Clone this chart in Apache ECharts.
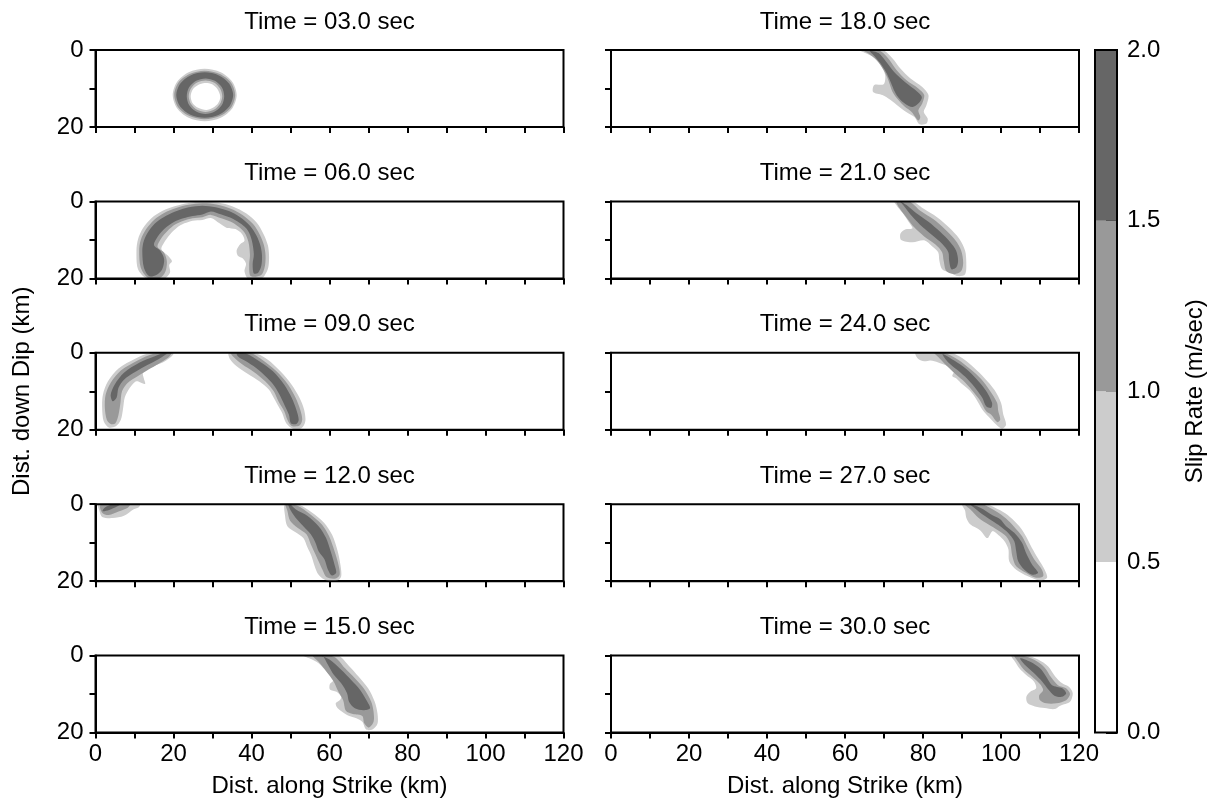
<!DOCTYPE html>
<html><head><meta charset="utf-8">
<script src="https://cdn.jsdelivr.net/npm/echarts@6/dist/echarts.min.js"></script>
<style>html,body{margin:0;padding:0;background:#fff}#c{width:1207px;height:812px}</style>
</head><body><div id="c"></div>
<script>
// ---------- colour scale: slip rate (m/sec) ----------
const levelBounds = [0.0, 0.5, 1.0, 1.5, 2.0];
const levelColors = ['#ffffff', '#cccccc', '#999999', '#666666'];
const strikeLabels = [0, 20, 40, 60, 80, 100, 120];
const dipLabels = [0, 20];
const panelTimes = ['03.0', '06.0', '09.0', '12.0', '15.0', '18.0', '21.0', '24.0', '27.0', '30.0'];

// ---------- contour outlines [strike km, dip km] ----------
// t = 3 s : ring
const t03_light = [[36.2,11.7],[35.1,8.3],[32.1,5.8],[28,4.9],[23.9,5.8],[20.9,8.3],[19.8,11.7],[20.9,15.1],[23.9,17.6],[28,18.5],[32.1,17.6],[35.1,15.1]];
const t03_medium = [[35.8,11.7],[34.8,8.55],[31.9,6.25],[28,5.4],[24.1,6.25],[21.2,8.55],[20.2,11.7],[21.2,14.85],[24.1,17.15],[28,18.0],[31.9,17.15],[34.8,14.85]];
const t03_dark = [[35.3,11.7],[34.3,8.75],[31.65,6.6],[28,5.8],[24.35,6.6],[21.7,8.75],[20.7,11.7],[21.7,14.65],[24.35,16.8],[28,17.6],[31.65,16.8],[34.3,14.65]];
const t03_innerMedium = [[33,12],[32.4,9.7],[30.6,8.0],[28.2,7.4],[25.8,8.0],[24.0,9.7],[23.4,12],[24.0,14.3],[25.8,16.0],[28.2,16.6],[30.6,16.0],[32.4,14.3]];
const t03_innerLight = [[32.5,12],[31.9,9.95],[30.35,8.45],[28.2,7.9],[26.05,8.45],[24.5,9.95],[23.9,12],[24.5,14.05],[26.05,15.55],[28.2,16.1],[30.35,15.55],[31.9,14.05]];
const t03_innerWhite = [[32.0,12.2],[31.3,10.2],[29.9,8.9],[28.0,8.6],[26.3,9.1],[24.9,10.3],[24.4,12],[24.9,13.8],[26.3,15.0],[28.4,15.6],[30.1,15.0],[31.4,13.9]];

// t = 6 s : arch
const t06_light = [[13.2,20],[10.9,17.6],[10.5,12.8],[10.9,9.8],[12.2,6.9],[14.4,4.3],[17.1,2.5],[20.5,1.2],[23.9,0.4],[27.4,0.1],[31.3,0.3],[35.2,1.3],[38.6,3.1],[41.3,5.5],[43.1,8.5],[44.2,11.4],[44.5,14.1],[44.3,17.2],[43.3,19.4],[42.5,20],
  [39.1,20],[38.2,18.1],[38.6,16.2],[37.8,14.8],[36.5,14.1],[36.2,12.7],[37.1,11.1],[38.2,10.2],[37.6,8.5],[35.9,7.2],[33.7,6.9],[31.8,5.7],[29.6,4.3],[27.4,4.8],[24.9,5.0],[22.8,5.7],[20.8,6.9],[19.1,8.6],[17.6,10.7],[16.9,12.4],[18.6,14.1],[19.6,15.5],[18.9,16.5],[19.1,18.5],[17.6,20]];
const t06_medium = [[13.4,19.8],[11.6,17.2],[11.2,12.8],[11.6,10.0],[13.0,7.2],[15.0,4.8],[17.6,3.0],[20.7,1.7],[23.9,0.9],[27.4,0.5],[31.0,0.8],[34.7,1.9],[37.8,3.6],[40.4,5.9],[42.1,8.6],[43.2,11.4],[43.6,14.1],[43.4,17.0],[42.5,19.1],
  [39.8,19.4],[39.4,16.5],[39.6,13.9],[39.2,10.5],[38.2,8.1],[36.7,6.6],[34.7,5.3],[32.0,4.3],[29.6,3.5],[27.4,4.1],[24.9,4.4],[22.6,5.0],[20.4,6.0],[18.5,7.6],[16.9,9.5],[15.9,11.8],[17.6,13.4],[18.3,15.6],[17.9,18.3],[16.6,19.8]];
const t06_dark = [[13.7,19.4],[12.4,17.2],[12.0,12.8],[12.4,10.2],[13.7,7.6],[15.6,5.4],[18.1,3.7],[21.0,2.4],[23.9,1.5],[27.4,1.1],[30.8,1.5],[34.2,2.5],[37.1,4.1],[39.6,6.3],[41.3,8.9],[42.3,11.5],[42.7,14.1],[42.5,16.8],[41.7,18.5],
  [40.6,18.7],[40.3,16.3],[40.6,13.7],[40.1,10.2],[39.1,7.6],[37.4,5.9],[35.2,4.5],[32.3,3.4],[29.6,2.6],[27.4,3.4],[24.9,3.8],[22.5,4.4],[20.0,5.4],[17.9,6.9],[16.1,8.9],[15.0,11.3],[16.6,12.8],[17.6,15.0],[17.1,17.6],[15.6,19.1]];

// t = 9 s : two arcs
const t09_leftLight = [[19.8,0],[14.2,0],[10.3,1.5],[5.9,4.1],[3.2,7.4],[1.9,10.9],[1.7,14.3],[2.1,17.8],[3.4,19.4],[5.2,19.1],[6.5,17.4],[7.1,14.3],[7.5,11.6],[8.8,9.1],[10.5,7.4],[12.7,8.1],[12.4,6.7],[12.2,5.2],[14.4,3.7],[17.1,2.6],[19.1,1.3],[20.0,0.3]];
const t09_leftMedium = [[19.1,0],[14.7,0.3],[10.8,2.0],[6.5,4.6],[3.9,7.8],[2.6,10.9],[2.4,14.3],[2.9,17.4],[3.9,18.5],[5.1,18.3],[5.9,16.1],[6.4,13.0],[6.8,10.0],[8.3,7.8],[10.8,6.1],[13.7,4.3],[16.1,2.9],[18.6,1.3],[19.6,0]];
const t09_leftDark = [[17.1,0.2],[15.2,0.9],[11.2,2.6],[7.3,5.2],[4.9,8.3],[3.9,10.9],[4.4,12.6],[5.4,11.7],[5.9,9.1],[7.3,7.0],[9.8,5.2],[12.7,3.5],[15.2,2.2],[17.1,1.1],[18.3,0.2]];
const t09_rightLight = [[40.6,0],[44.0,1.7],[47.4,4.8],[50.3,8.3],[52.3,11.7],[53.5,14.8],[53.8,17.8],[52.8,19.6],[50.6,19.7],[48.9,18.3],[47.9,15.7],[46.9,13.9],[45.7,11.7],[44.5,9.6],[42.0,7.4],[39.1,5.5],[36.2,3.5],[34.5,1.7],[34.2,0]];
const t09_rightMedium = [[39.6,0],[43.0,2.0],[46.4,4.8],[49.4,8.3],[51.3,11.7],[52.5,14.8],[53.0,17.4],[52.3,18.9],[50.3,19.0],[49.2,17.4],[48.4,15.2],[46.9,12.6],[45.7,10.0],[43.5,7.4],[40.6,5.0],[37.6,3.0],[35.2,0.9],[34.7,0]];
const t09_rightDark = [[38.6,0.2],[42.0,2.2],[45.5,4.8],[48.4,8.3],[50.3,11.7],[51.5,14.8],[52.1,17.4],[51.5,18.5],[50.1,18.3],[49.6,16.1],[48.6,13.9],[47.4,11.3],[45.9,8.7],[44.0,6.5],[41.1,3.9],[38.6,2.2],[36.7,1.1],[36.2,0.2]];

// t = 12 s
const t12_blobLight = [[0.7,0],[1,1.7],[1.7,3.3],[4.4,3.6],[7.3,3.0],[9.8,1.3],[11.2,0.7],[11.4,0]];
const t12_blobMedium = [[1.3,0.2],[1.7,2.2],[3.4,2.8],[5.9,1.9],[8.3,0.9],[8.8,0]];
const t12_blobDark = [[1.8,1.8],[3.5,1.5],[5.5,0.6],[6.5,0],[4.5,0],[2.5,0.8]];
const t12_light = [[48.6,0],[52.3,0.2],[55.4,2.1],[58.6,4.8],[60.7,8.0],[62.1,12.2],[62.8,15.7],[63.0,18.7],[62.1,19.8],[59.2,19.8],[57.2,18.3],[56.2,16.1],[55.4,13.5],[54.3,11.1],[53.3,8.8],[51.3,7.3],[49.2,5.7],[48.6,3.0]];
const t12_medium = [[48.8,0],[51.8,0.4],[54.8,2.4],[58.0,5.2],[59.9,8.3],[61.3,12.2],[62.3,15.7],[62.6,18.3],[61.6,19.3],[59.3,19.0],[58.2,17.0],[57.2,14.8],[56.2,12.6],[55.2,10.4],[54.1,7.8],[51.8,6.1],[49.9,4.3],[49.2,1.7]];
const t12_dark = [[49.9,0],[51.3,1.3],[54.3,3.0],[57.2,5.7],[59.1,8.7],[60.3,12.2],[61.3,15.7],[61.7,17.8],[60.6,18.5],[59.6,17.0],[58.7,14.3],[57.2,12.2],[56.4,10.0],[55.2,7.8],[53.3,5.7],[51.3,3.5],[50.1,1.7],[49.4,0]];

// t = 15 s
const t15_light = [[53.3,0],[62.1,0],[65.0,2.7],[67.5,5.5],[69.9,8.5],[71.6,12.0],[72.3,15.0],[72.3,17.7],[71.0,19.2],[69.4,19.2],[68.4,17.2],[66.9,16.3],[64.5,15.4],[62.1,13.7],[61.6,12.4],[62.6,11.6],[63.0,10.7],[61.8,9.4],[60.1,8.8],[60.1,7.4],[61.1,6.2],[59.2,4.1],[57.2,2.0],[54.8,0.7]];
const t15_medium = [[55.7,0],[61.1,0.3],[64.0,3.3],[66.5,5.9],[68.9,8.7],[70.7,12.0],[71.3,14.6],[71.3,17.2],[70.1,18.7],[68.9,17.6],[68.4,15.7],[66.0,15.2],[64.2,14.3],[63.5,11.6],[62.1,9.0],[61.1,6.8],[59.2,4.1],[57.2,1.6]];
const t15_dark = [[57.7,0],[60.1,1.1],[63.0,3.7],[65.5,6.3],[67.9,9.0],[69.7,12.0],[70.4,13.7],[68.7,14.2],[66.5,13.7],[65.0,12.0],[64.5,9.8],[63.0,7.2],[61.1,5.0],[59.6,2.4],[58.7,0.7],[58.2,0]];

// t = 18 s
const t18_light = [[63.5,0],[69.6,0],[72.2,2.2],[74.2,4.8],[76.8,7.4],[79.8,9.6],[81.4,11.7],[80.9,14.3],[80.2,16.1],[81.2,17.8],[80.9,19.1],[79.1,19.3],[77.8,17.4],[75.7,16.1],[73.7,14.6],[71.7,13.0],[69.6,11.7],[67.2,10.9],[67.5,9.1],[69.9,8.9],[70.3,6.5],[69.1,3.9],[67.0,1.7],[65.0,0.7]];
const t18_medium = [[64.5,0],[68.6,0],[71.1,2.2],[73.2,5.2],[75.7,7.8],[78.8,10.0],[80.3,11.7],[79.8,13.9],[78.8,15.7],[79.3,17.4],[78.8,18.3],[77.1,16.1],[75.2,14.6],[73.7,13.0],[72.2,10.9],[71.1,7.8],[69.9,5.2],[68.1,2.6],[66.0,0.9]];
const t18_dark = [[66.3,0.2],[68.6,0.8],[70.5,3.0],[72.6,5.7],[75.6,8.5],[78.4,10.7],[79.7,12.2],[79.0,13.7],[77.3,14.8],[75.5,14.0],[73.9,12.6],[72.8,10.9],[71.7,8.3],[70.5,5.7],[69.1,3.5],[67.3,1.3]];

// t = 21 s
const t21_light = [[72.7,0],[77.3,0],[80.3,2.0],[83.6,4.1],[86.7,6.8],[89.3,9.7],[90.8,12.8],[91.1,15.9],[90.8,18.9],[89.0,19.4],[87.0,18.5],[84.9,17.6],[84.2,15.4],[83.9,13.2],[82.4,11.7],[80.3,10.1],[77.3,10.6],[74.4,10.0],[74.2,8.4],[75.4,7.3],[77.3,7.0],[76.3,5.3],[74.7,2.9],[73.4,1.3]];
const t21_medium = [[73.2,0],[76.5,0],[79.3,2.4],[82.6,4.6],[85.7,7.3],[88.3,10.1],[89.8,12.8],[90.3,15.9],[89.8,18.1],[88.0,18.9],[86.0,18.1],[85.3,15.4],[84.9,13.2],[83.2,11.2],[80.3,9.1],[77.8,6.8],[75.7,4.1],[74.0,1.8]];
const t21_dark = [[74.2,0],[75.7,0.9],[78.3,3.1],[81.4,5.3],[84.4,7.9],[87.0,10.6],[88.5,12.8],[89.0,15.4],[88.5,17.2],[87.3,17.6],[86.7,15.4],[86.5,13.2],[84.9,11.0],[82.4,8.8],[79.8,6.6],[77.3,4.0],[75.2,1.3]];

// t = 24 s
const t24_light = [[78.1,0],[87.0,0],[90.4,1.6],[93.1,3.9],[95.8,6.6],[98.3,9.6],[100.0,13.0],[100.6,16.1],[101.3,18.7],[100.3,19.7],[98.8,18.7],[96.7,16.5],[95.2,14.7],[93.7,12.1],[92.1,9.9],[90.1,8.2],[88.5,6.6],[87.5,6.0],[88.0,4.6],[86.0,3.3],[83.9,2.5],[81.9,2.0],[80.3,2.2],[78.8,1.6]];
const t24_medium = [[82.9,0],[85.4,0],[89.0,1.8],[92.1,4.2],[94.9,6.8],[97.2,9.9],[99.0,13.0],[99.3,15.2],[99.8,17.4],[99.0,18.0],[97.5,16.1],[96.2,15.2],[94.7,12.5],[93.1,10.4],[90.8,7.7],[88.3,5.5],[86.0,3.3],[83.9,1.1]];
const t24_dark = [[85.0,0.3],[88.0,2.0],[91.1,4.2],[93.7,6.8],[96.2,9.9],[97.7,13.0],[97.5,14.3],[96.2,13.9],[95.2,11.7],[93.7,9.5],[91.4,6.8],[89.0,4.6],[86.5,2.5]];

// t = 27 s
const t27_light = [[90.1,0],[96.2,0],[99.8,1.6],[102.3,3.3],[104.7,5.7],[106.4,8.3],[107.9,11.3],[109.5,14.1],[111.2,17.0],[111.8,19.1],[110.0,19.8],[106.9,18.7],[103.9,17.0],[102.1,14.8],[101.9,11.7],[100.9,9.6],[99.3,8.0],[97.8,7.0],[96.5,8.8],[94.7,6.8],[92.1,5.2],[91.1,3.5],[90.8,1.7]];
const t27_medium = [[90.8,0],[95.2,0],[98.8,1.9],[101.3,3.7],[103.4,5.9],[105.4,8.3],[106.9,11.3],[108.5,14.3],[110.5,17.0],[110.8,18.7],[109.0,19.1],[106.4,17.8],[103.9,16.1],[102.9,13.5],[102.4,10.4],[101.3,8.3],[99.3,6.8],[96.7,5.2],[94.2,3.5],[92.1,1.3]];
const t27_dark = [[92.1,0],[94.7,0.9],[97.7,2.8],[99.8,3.9],[101.3,5.7],[103.4,7.4],[105.4,10.0],[106.4,12.6],[108.0,15.7],[109.5,17.8],[108.0,18.3],[106.0,17.0],[104.4,14.8],[103.9,12.2],[103.4,9.6],[101.8,7.4],[99.8,5.7],[97.7,4.3],[95.2,2.6],[93.1,0.9]];

// t = 30 s
const t30_light = [[102.7,0],[106.4,0],[109.5,1.0],[112.1,2.8],[113.9,5.4],[115.7,7.2],[117.4,8.1],[118.4,9.8],[117.7,12.0],[115.2,13.0],[113.7,13.9],[111.2,13.6],[108.7,13.2],[106.8,12.3],[106.5,10.7],[107.5,9.4],[109.0,8.5],[108.5,6.8],[106.4,5.0],[104.7,3.3],[103.6,1.6]];
const t30_medium = [[103.4,0],[105.4,0],[108.5,1.1],[111.1,3.0],[112.9,5.7],[114.6,7.7],[116.7,8.5],[117.7,10.0],[116.7,11.6],[114.2,12.4],[111.6,12.4],[110.0,11.6],[109.8,10.3],[110.8,9.0],[110.0,7.4],[108.0,5.5],[105.9,3.7],[104.4,1.6]];
const t30_dark = [[104.9,0.7],[107.5,1.6],[110.0,3.3],[111.6,5.5],[113.1,7.7],[115.7,8.5],[116.7,9.8],[115.7,10.7],[113.7,10.4],[112.2,8.9],[110.6,6.8],[108.5,4.6],[106.1,2.4]];

// bands of each panel, in drawing order: [lower slip-rate bound, outline]
const panelBands = [
  [[0.5,t03_light],[1.0,t03_medium],[1.5,t03_dark],[1.0,t03_innerMedium],[0.5,t03_innerLight],[0.0,t03_innerWhite]],
  [[0.5,t06_light],[1.0,t06_medium],[1.5,t06_dark]],
  [[0.5,t09_leftLight],[0.5,t09_rightLight],[1.0,t09_leftMedium],[1.0,t09_rightMedium],[1.5,t09_leftDark],[1.5,t09_rightDark]],
  [[0.5,t12_blobLight],[0.5,t12_light],[1.0,t12_blobMedium],[1.0,t12_medium],[1.5,t12_blobDark],[1.5,t12_dark]],
  [[0.5,t15_light],[1.0,t15_medium],[1.5,t15_dark]],
  [[0.5,t18_light],[1.0,t18_medium],[1.5,t18_dark]],
  [[0.5,t21_light],[1.0,t21_medium],[1.5,t21_dark]],
  [[0.5,t24_light],[1.0,t24_medium],[1.5,t24_dark]],
  [[0.5,t27_light],[1.0,t27_medium],[1.5,t27_dark]],
  [[0.5,t30_light],[1.0,t30_medium],[1.5,t30_dark]]
];

// ---------- layout ----------
const FONT = '"Liberation Sans", Arial, Helvetica, sans-serif';
const FS = 24;
const colLeft = [95.5, 611];
const panelW = 468, panelH = 77, firstTop = 50, rowStep = 151.4;

const grids = [], xAxes = [], yAxes = [], series = [], graphics = [];
panelBands.forEach((bands, i) => {
  const col = i < 5 ? 0 : 1, row = i % 5;
  const left = colLeft[col], top = firstTop + row * rowStep;
  const isBottom = row === 4, isLeft = col === 0;
  grids.push({left, top, width: panelW, height: panelH, show: true, borderColor: '#000', borderWidth: 2, outerBoundsMode: 'none', z: 3});
  xAxes.push({
    gridIndex: i, type: 'value', min: 0, max: 120, interval: 10,
    axisLine: {show: true, onZero: false, lineStyle: {color: '#000', width: 2}},
    axisTick: {show: true, length: 6, lineStyle: {color: '#000', width: 2}},
    splitLine: {show: false},
    axisLabel: {show: isBottom, showMinLabel: true, showMaxLabel: true, margin: 10, color: '#000', fontSize: FS, fontFamily: FONT,
      formatter: v => strikeLabels.includes(v) ? String(v) : ''},
    name: isBottom ? 'Dist. along Strike (km)' : '', nameLocation: 'middle', nameGap: 42,
    nameTextStyle: {color: '#000', fontSize: FS, fontFamily: FONT}
  });
  yAxes.push({
    gridIndex: i, type: 'value', min: 0, max: 20, interval: 10, inverse: true,
    axisLine: {show: true, onZero: false, lineStyle: {color: '#000', width: 2}},
    axisTick: {show: true, length: 6, lineStyle: {color: '#000', width: 2}},
    splitLine: {show: false},
    axisLabel: {show: isLeft, showMinLabel: true, showMaxLabel: true, margin: 12, color: '#000', fontSize: FS, fontFamily: FONT,
      formatter: v => dipLabels.includes(v) ? String(v) : ''}
  });
  series.push({
    type: 'custom', coordinateSystem: 'cartesian2d', xAxisIndex: i, yAxisIndex: i,
    silent: true, clip: true, z: 1,
    data: bands.map((b, k) => [b[1][0][0], b[1][0][1], k]),
    renderItem: (params, api) => {
      const b = bands[api.value(2)];
      const pts = b[1].map(p => api.coord(p));
      const ci = levelBounds.indexOf(b[0]);
      return {type: 'polygon', shape: {points: pts, smooth: 0.3}, style: {fill: levelColors[ci], stroke: null}};
    }
  });
  graphics.push({
    type: 'text', x: left + panelW / 2, y: top - 28,
    style: {text: 'Time = ' + panelTimes[i] + ' sec', font: FS + 'px ' + FONT, fill: '#000', textAlign: 'center', textVerticalAlign: 'middle'}
  });
});

// colour bar
const cbIndex = grids.length;
grids.push({left: 1095, top: firstTop, width: 22, height: 4 * rowStep + panelH, show: true, borderColor: '#000', borderWidth: 2, outerBoundsMode: 'none', z: 3});
xAxes.push({gridIndex: cbIndex, type: 'category', data: ['slip'], show: false});
yAxes.push({
  gridIndex: cbIndex, type: 'value', position: 'right', min: levelBounds[0], max: levelBounds[levelBounds.length - 1], interval: 0.5,
  axisLine: {show: true, lineStyle: {color: '#000', width: 2}},
  axisTick: {show: true, inside: true, length: 11, lineStyle: {color: '#000', width: 2}},
  splitLine: {show: false},
  axisLabel: {margin: 10, color: '#000', fontSize: FS, fontFamily: FONT, formatter: v => v.toFixed(1)},
  name: 'Slip Rate (m/sec)', nameLocation: 'middle', nameRotate: 90, nameGap: 66,
  nameTextStyle: {color: '#000', fontSize: FS, fontFamily: FONT}
});
levelColors.forEach((c, k) => {
  series.push({
    type: 'bar', xAxisIndex: cbIndex, yAxisIndex: cbIndex, stack: 'cb', barWidth: '100%', silent: true, z: 1,
    data: [levelBounds[k + 1] - levelBounds[k]], itemStyle: {color: c}
  });
});

graphics.push({
  type: 'text', x: 22, y: firstTop + (4 * rowStep + panelH) / 2, rotation: Math.PI / 2,
  style: {text: 'Dist. down Dip (km)', font: FS + 'px ' + FONT, fill: '#000', textAlign: 'center', textVerticalAlign: 'middle'}
});

const chart = echarts.init(document.getElementById('c'));
chart.setOption({
  animation: false,
  backgroundColor: '#fff',
  grid: grids, xAxis: xAxes, yAxis: yAxes, series: series, graphic: graphics
});
</script></body></html>
